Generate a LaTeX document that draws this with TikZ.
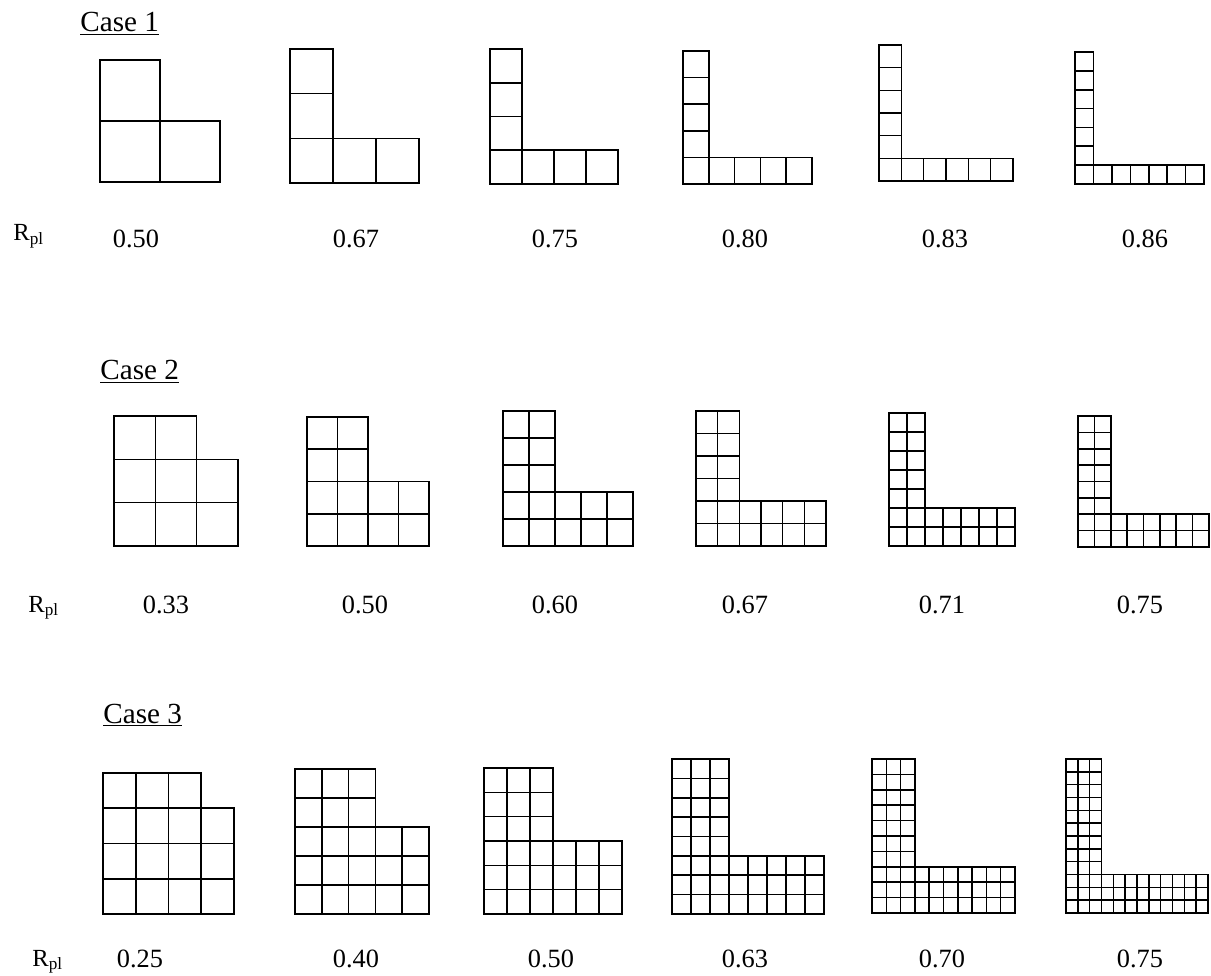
\documentclass[tikz,border=0pt]{standalone}
\usepackage{fontspec}
\setmainfont{Liberation Serif}

\tikzset{
  cell/.style={draw, line width=0.9pt},
  val/.style={anchor=base, inner sep=0pt, font=\fontsize{15}{18}\selectfont},
  rpl/.style={anchor=base west, inner sep=0pt, font=\fontsize{14}{17}\selectfont},
  casetitle/.style={anchor=base west, inner sep=0pt, font=\fontsize{16.6}{20}\selectfont}
}

% L of n x n cells, arm k cells thick: left, bottom, width, height, n, k
\newcommand{\lgrid}[6]{%
  \foreach \i in {1,...,#5}{
    \foreach \j in {1,...,#5}{
      \pgfmathtruncatemacro\lo{min(\i,\j)}
      \ifnum\lo>#6\relax\else
        \draw[cell] ({#1+(\j-1)*#3/#5},{#2+(\i-1)*#4/#5}) rectangle +({#3/#5},{#4/#5});
      \fi
    }}}

\begin{document}
\begin{tikzpicture}[x=0.02cm,y=0.02cm]
        \useasboundingbox (0,0) rectangle (1211,975);
        % case 1
        \node[casetitle] (c1) at (80,943) {\underline{Case 1}};
        \lgrid{100}{793}{120}{122}{2}{1}
        \lgrid{290}{792}{129}{134}{3}{1}
        \lgrid{490}{791}{128}{135}{4}{1}
        \lgrid{683}{791}{129}{133}{5}{1}
        \lgrid{879}{794}{134}{136}{6}{1}
        \lgrid{1075}{791}{129}{132}{7}{1}
        \node[rpl] (r1) at (13,734) {R\textsubscript{pl}};
        \node[val] (v11) at (136,727) {0.50};
        \node[val] (v12) at (356,727) {0.67};
        \node[val] (v13) at (555,727) {0.75};
        \node[val] (v14) at (745,727) {0.80};
        \node[val] (v15) at (945,727) {0.83};
        \node[val] (v16) at (1145,727) {0.86};
        % case 2
        \node[casetitle] (c2) at (100,595) {\underline{Case 2}};
        \lgrid{114}{429}{124}{130}{3}{2}
        \lgrid{307}{429}{122}{129}{4}{2}
        \lgrid{503}{429}{130}{135}{5}{2}
        \lgrid{696}{429}{130}{135}{6}{2}
        \lgrid{889}{429}{126}{133}{7}{2}
        \lgrid{1078}{428}{131}{131}{8}{2}
        \node[rpl] (r2) at (28,363) {R\textsubscript{pl}};
        \node[val] (v21) at (166,362) {0.33};
        \node[val] (v22) at (365,362) {0.50};
        \node[val] (v23) at (555,362) {0.60};
        \node[val] (v24) at (745,362) {0.67};
        \node[val] (v25) at (942,362) {0.71};
        \node[val] (v26) at (1140,362) {0.75};
        % case 3
        \node[casetitle] (c3) at (103,252) {\underline{Case 3}};
        \lgrid{103}{61}{131}{141}{4}{3}
        \lgrid{295}{61}{134}{145}{5}{3}
        \lgrid{484}{61}{138}{146}{6}{3}
        \lgrid{672}{61}{152}{155}{8}{3}
        \lgrid{872}{62}{143}{154}{10}{3}
        \lgrid{1066}{62}{142}{154}{12}{3}
        \node[rpl] (r3) at (32,9) {R\textsubscript{pl}};
        \node[val] (v31) at (140,8) {0.25};
        \node[val] (v32) at (356,8) {0.40};
        \node[val] (v33) at (551,8) {0.50};
        \node[val] (v34) at (745,8) {0.63};
        \node[val] (v35) at (942,8) {0.70};
        \node[val] (v36) at (1140,8) {0.75};
    \end{tikzpicture}
\end{document}
